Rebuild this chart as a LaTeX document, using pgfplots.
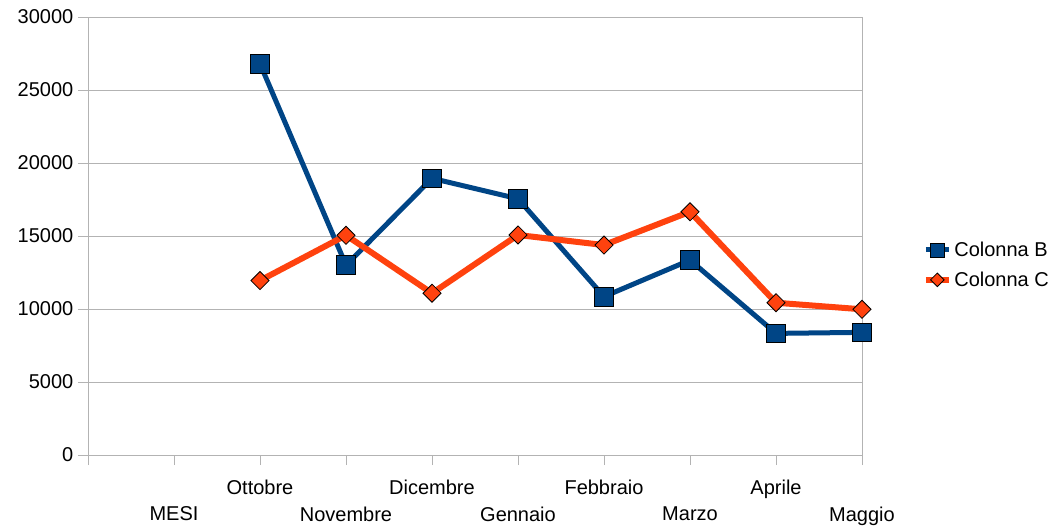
\documentclass[border=0pt]{standalone}
\usepackage{fontspec}
\setmainfont{Liberation Sans}
\usepackage{pgfplots}
\pgfplotsset{compat=1.18}
\definecolor{cB}{HTML}{004586}
\definecolor{cC}{HTML}{FF420E}
\definecolor{gr}{HTML}{B3B3B3}
\newcommand{\low}[1]{\raisebox{-20.25pt}[\height][\depth]{#1}}
\begin{document}
\begin{tikzpicture}
\begin{axis}[
 scale only axis, width=580.5pt, height=328.5pt,
 xmin=0, xmax=9, ymin=0, ymax=30000,
 clip=false,
 xtick={0,...,9},
 xticklabels={{}, {\low{MESI}}, Ottobre, {\low{Novembre}}, Dicembre, {\low{Gennaio}}, Febbraio, {\low{Marzo}}, Aprile, {\low{Maggio}}},
 xticklabel style={font=\fontsize{15}{18}\selectfont, inner sep=4pt, yshift=-7pt},
 ytick={0,5000,...,30000},
 scaled y ticks=false,
 yticklabel style={font=\fontsize{15}{18}\selectfont},
 /pgf/number format/assume math mode=true,
 /pgf/number format/1000 sep={},
 ymajorgrids,
 grid style={gr, line width=0.75pt},
 axis line style={gr, line width=0.75pt},
 tick style={gr, line width=0.75pt},
 major tick length=7.5pt,
 tick align=outside,
 tick pos=left,
 legend style={at={(1.075,0.434)}, anchor=west, draw=none, font=\fontsize{15}{18}\selectfont, row sep=6pt, inner sep=2pt},
 legend cell align=left,
 legend image code/.code={\draw[mark repeat=2,mark phase=2, every mark/.append style={scale=0.75}] plot coordinates {(0pt,0pt) (8.5pt,0pt) (17pt,0pt)};},
]
\addplot[cB, line width=3.75pt, mark=square*, mark size=7pt, mark options={fill=cB, draw=black, line width=0.6pt}] coordinates {(2,26800) (3,13000) (4,18950) (5,17550) (6,10850) (7,13350) (8,8330) (9,8400)};
\addlegendentry{Colonna B}
\addplot[cC, line width=4.5pt, mark=square*, mark size=4.8pt, mark options={rotate=45, fill=cC, draw=black, line width=0.6pt}] coordinates {(2,11950) (3,15050) (4,11080) (5,15070) (6,14380) (7,16660) (8,10430) (9,9980)};
\addlegendentry{Colonna C}
\end{axis}
\pgfresetboundingbox
\path ([shift={(-66pt,-54.75pt)}]current axis.south west) rectangle ([shift={(144.75pt,12.75pt)}]current axis.north east);
\end{tikzpicture}
\end{document}
